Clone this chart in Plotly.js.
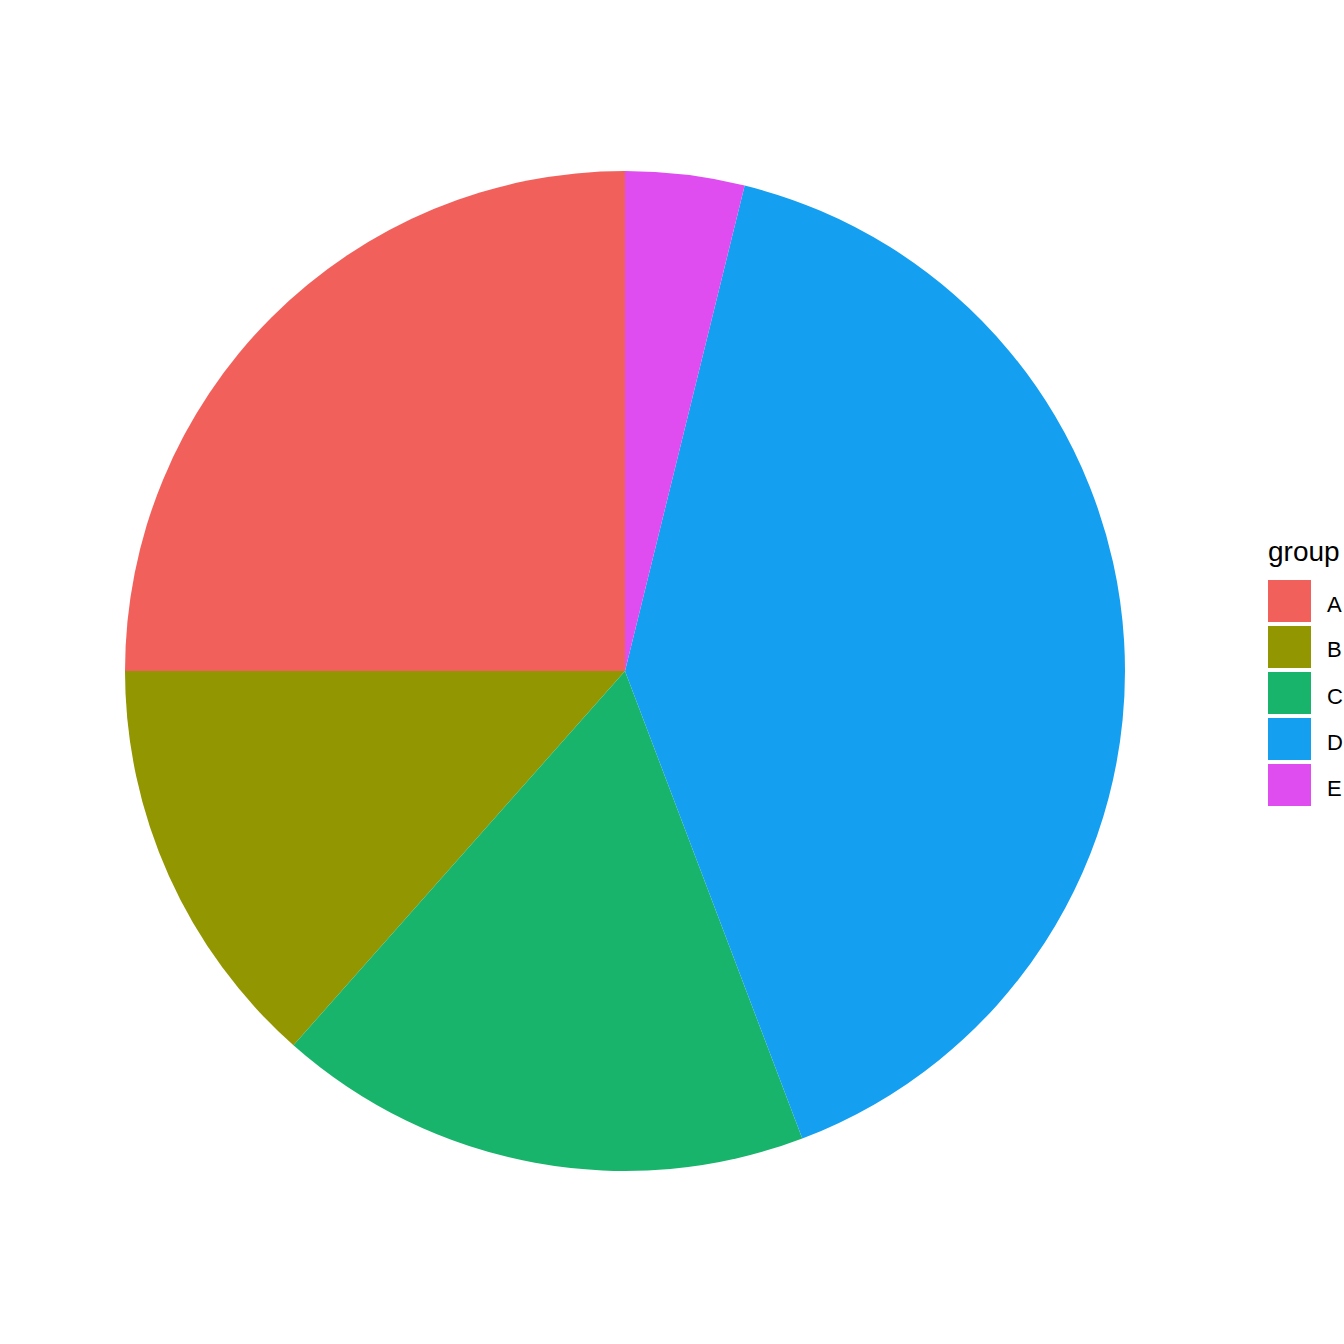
<!DOCTYPE html>
<html>
<head>
<meta charset="utf-8">
<script src="https://cdn.plot.ly/plotly-3.0.1.min.js"></script>
<style>
  html, body { margin: 0; padding: 0; background: #fff; }
  #graph { width: 1344px; height: 1344px; }
</style>
</head>
<body>
<div id="graph"></div>
<script>
const groups = ['A', 'B', 'C', 'D', 'E']
const values = [13, 7, 9, 21, 2]
const colors = ['#F2605C', '#929600', '#19B46B', '#159FF1', '#DF4CF0']

const W = 1344, H = 1344

// pixel -> paper helpers
function px(x) { return x / W }
function py(y) { return 1 - y / H }

let data = [
    {
        type: 'pie',
        labels: groups,
        values: values,
        sort: false,
        direction: 'counterclockwise',
        rotation: -90,
        textinfo: 'none',
        hoverinfo: 'label+value',
        marker: {
            colors: colors,
            line: { width: 0 }
        },
        domain: {
            x: [px(125), px(1125)],
            y: [py(1171), py(171)]
        },
        showlegend: false
    }
]

// legend drawn by hand so the keys match the ggplot-style squares
let shapes = []
let annotations = [
    {
        xref: 'paper', yref: 'paper',
        x: px(1266), y: py(551),
        xanchor: 'left', yanchor: 'middle',
        text: 'group',
        showarrow: false,
        font: { family: 'Liberation Sans, Arial, sans-serif', size: 28, color: '#000' }
    }
]
groups.forEach(function (g, i) {
    let top = 580 + i * 46
    shapes.push({
        type: 'rect',
        xref: 'paper', yref: 'paper',
        x0: px(1268), x1: px(1311),
        y0: py(top), y1: py(top + 42),
        fillcolor: colors[i],
        line: { width: 0 }
    })
    annotations.push({
        xref: 'paper', yref: 'paper',
        x: px(1325), y: py(top + 21 + 3),
        xanchor: 'left', yanchor: 'middle',
        text: g,
        showarrow: false,
        font: { family: 'Liberation Sans, Arial, sans-serif', size: 22, color: '#000' }
    })
})

let layout = {
    width: W,
    height: H,
    margin: { l: 0, r: 0, t: 0, b: 0 },
    paper_bgcolor: '#fff',
    plot_bgcolor: '#fff',
    showlegend: false,
    shapes: shapes,
    annotations: annotations
}

Plotly.newPlot('graph', data, layout, { displayModeBar: false, staticPlot: true })
</script>
</body>
</html>
